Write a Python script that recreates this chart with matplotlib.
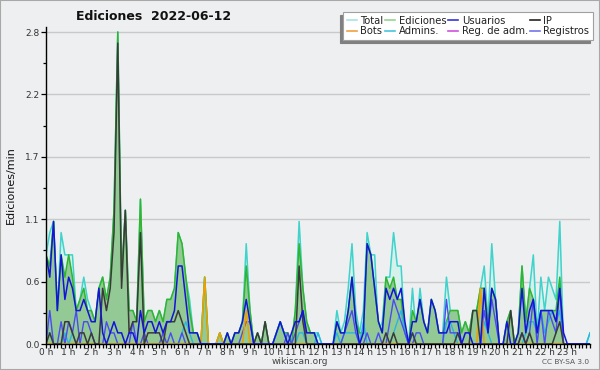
import numpy as np
import matplotlib
matplotlib.use('Agg')
import matplotlib.pyplot as plt
from matplotlib.lines import Line2D
from matplotlib.patches import Rectangle

# 10-minute bins (edits per minute), 0h .. 24h
total = [0.8, 1.0, 1.1, 0.3, 1.0, 0.8,
         0.8, 0.8, 0.3, 0.4, 0.6, 0.4,
         0.3, 0.2, 0.5, 0.6, 0.4, 0.6,
         1.2, 2.8, 0.6, 1.2, 0.3, 0.3,
         0.2, 1.3, 0.2, 0.3, 0.3, 0.2,
         0.3, 0.2, 0.4, 0.4, 0.5, 1.0,
         0.9, 0.6, 0.4, 0.1, 0.1, 0.0,
         0.6, 0.0, 0.0, 0.0, 0.1, 0.0,
         0.1, 0.0, 0.1, 0.1, 0.2, 0.9,
         0.3, 0.0, 0.1, 0.0, 0.2, 0.0,
         0.0, 0.1, 0.2, 0.1, 0.1, 0.0,
         0.3, 1.1, 0.5, 0.2, 0.1, 0.1,
         0.1, 0.0, 0.0, 0.0, 0.0, 0.3,
         0.1, 0.2, 0.5, 0.9, 0.3, 0.1,
         0.3, 1.0, 0.8, 0.8, 0.1, 0.2,
         0.6, 0.6, 1.0, 0.7, 0.7, 0.1,
         0.0, 0.5, 0.1, 0.5, 0.2, 0.1,
         0.4, 0.3, 0.1, 0.1, 0.6, 0.3,
         0.3, 0.3, 0.1, 0.2, 0.1, 0.3,
         0.3, 0.5, 0.7, 0.2, 0.9, 0.4,
         0.0, 0.0, 0.2, 0.3, 0.0, 0.1,
         0.7, 0.2, 0.5, 0.8, 0.1, 0.6,
         0.3, 0.6, 0.5, 0.4, 1.1, 0.0,
         0.0, 0.0, 0.0, 0.0, 0.0, 0.0,
         0.1]

ediciones = [0.8, 0.7, 1.1, 0.3, 0.8, 0.6,
             0.8, 0.6, 0.3, 0.4, 0.5, 0.3,
             0.3, 0.2, 0.5, 0.6, 0.4, 0.6,
             1.2, 2.8, 0.6, 1.2, 0.3, 0.3,
             0.2, 1.3, 0.2, 0.3, 0.3, 0.2,
             0.3, 0.2, 0.4, 0.4, 0.5, 1.0,
             0.9, 0.6, 0.3, 0.1, 0.1, 0.0,
             0.6, 0.0, 0.0, 0.0, 0.1, 0.0,
             0.1, 0.0, 0.1, 0.1, 0.2, 0.7,
             0.3, 0.0, 0.1, 0.0, 0.2, 0.0,
             0.0, 0.1, 0.2, 0.1, 0.1, 0.0,
             0.3, 0.9, 0.5, 0.2, 0.1, 0.1,
             0.0, 0.0, 0.0, 0.0, 0.0, 0.2,
             0.1, 0.1, 0.3, 0.6, 0.2, 0.1,
             0.1, 0.9, 0.8, 0.5, 0.2, 0.1,
             0.6, 0.5, 0.6, 0.4, 0.4, 0.1,
             0.0, 0.3, 0.2, 0.4, 0.2, 0.1,
             0.4, 0.3, 0.1, 0.1, 0.2, 0.3,
             0.3, 0.3, 0.1, 0.2, 0.1, 0.3,
             0.3, 0.5, 0.5, 0.2, 0.5, 0.4,
             0.0, 0.0, 0.2, 0.3, 0.0, 0.1,
             0.7, 0.2, 0.5, 0.4, 0.1, 0.3,
             0.3, 0.3, 0.3, 0.3, 0.6, 0.0,
             0.0, 0.0, 0.0, 0.0, 0.0, 0.0,
             0.0]

usuarios = [0.8, 0.6, 1.1, 0.3, 0.8, 0.4,
            0.6, 0.5, 0.3, 0.3, 0.4, 0.3,
            0.2, 0.2, 0.5, 0.1, 0.0, 0.1,
            0.2, 0.1, 0.1, 0.0, 0.1, 0.1,
            0.0, 0.3, 0.1, 0.2, 0.2, 0.1,
            0.2, 0.1, 0.2, 0.2, 0.3, 0.7,
            0.7, 0.4, 0.1, 0.1, 0.1, 0.0,
            0.0, 0.0, 0.0, 0.0, 0.0, 0.0,
            0.1, 0.0, 0.1, 0.1, 0.2, 0.4,
            0.2, 0.0, 0.0, 0.0, 0.0, 0.0,
            0.0, 0.1, 0.2, 0.1, 0.0, 0.1,
            0.2, 0.2, 0.3, 0.1, 0.1, 0.1,
            0.0, 0.0, 0.0, 0.0, 0.0, 0.2,
            0.1, 0.1, 0.3, 0.6, 0.2, 0.0,
            0.1, 0.9, 0.8, 0.5, 0.2, 0.1,
            0.5, 0.4, 0.5, 0.4, 0.5, 0.2,
            0.0, 0.2, 0.2, 0.4, 0.2, 0.1,
            0.4, 0.3, 0.1, 0.1, 0.1, 0.2,
            0.2, 0.2, 0.0, 0.1, 0.1, 0.0,
            0.0, 0.0, 0.5, 0.1, 0.5, 0.4,
            0.0, 0.0, 0.2, 0.0, 0.0, 0.1,
            0.5, 0.1, 0.3, 0.4, 0.1, 0.3,
            0.3, 0.3, 0.3, 0.2, 0.5, 0.1,
            0.0, 0.0, 0.0, 0.0, 0.0, 0.0,
            0.0]

ip = [0.0, 0.1, 0.0, 0.0, 0.0, 0.2,
      0.2, 0.1, 0.0, 0.1, 0.1, 0.0,
      0.1, 0.0, 0.0, 0.5, 0.3, 0.5,
      1.0, 2.7, 0.5, 1.2, 0.1, 0.2,
      0.2, 1.0, 0.0, 0.1, 0.1, 0.1,
      0.1, 0.0, 0.2, 0.2, 0.2, 0.3,
      0.2, 0.1, 0.0, 0.0, 0.0, 0.0,
      0.0, 0.0, 0.0, 0.0, 0.0, 0.0,
      0.0, 0.0, 0.0, 0.0, 0.0, 0.0,
      0.0, 0.0, 0.1, 0.0, 0.2, 0.0,
      0.0, 0.0, 0.0, 0.0, 0.0, 0.0,
      0.0, 0.7, 0.2, 0.0, 0.0, 0.0,
      0.0, 0.0, 0.0, 0.0, 0.0, 0.0,
      0.0, 0.0, 0.0, 0.0, 0.0, 0.0,
      0.0, 0.0, 0.0, 0.0, 0.0, 0.0,
      0.1, 0.0, 0.1, 0.0, 0.0, 0.0,
      0.0, 0.1, 0.0, 0.0, 0.0, 0.0,
      0.0, 0.0, 0.0, 0.0, 0.0, 0.0,
      0.0, 0.1, 0.0, 0.0, 0.0, 0.3,
      0.3, 0.0, 0.0, 0.0, 0.0, 0.0,
      0.0, 0.0, 0.0, 0.3, 0.0, 0.0,
      0.1, 0.0, 0.1, 0.0, 0.0, 0.0,
      0.0, 0.0, 0.0, 0.1, 0.2, 0.0,
      0.0, 0.0, 0.0, 0.0, 0.0, 0.0,
      0.0]

bots = [0.0] * 42 + [0.6, 0.0, 0.0, 0.0, 0.1, 0.0,
                     0.0, 0.0, 0.0, 0.0, 0.0, 0.3] + [0.0] * 61 + [0.5] + [0.0] * 29

admins = [0.1, 0.1, 0.0, 0.0, 0.0, 0.1,
          0.0, 0.1, 0.0, 0.0, 0.0, 0.0,
          0.0, 0.0, 0.0, 0.0, 0.0, 0.0,
          0.0, 0.0, 0.0, 0.0, 0.0, 0.0,
          0.0, 0.0, 0.0, 0.0, 0.0, 0.0,
          0.0, 0.0, 0.0, 0.0, 0.0, 0.0,
          0.1, 0.2, 0.1, 0.0, 0.0, 0.0,
          0.0, 0.0, 0.0, 0.0, 0.0, 0.0,
          0.0, 0.0, 0.0, 0.0, 0.0, 0.0,
          0.0, 0.0, 0.0, 0.0, 0.0, 0.0,
          0.0, 0.1, 0.2, 0.1, 0.0, 0.0,
          0.0, 0.1, 0.1, 0.0, 0.0, 0.0,
          0.1, 0.0, 0.0, 0.0, 0.0, 0.1,
          0.0, 0.1, 0.1, 0.1, 0.1, 0.0,
          0.2, 0.0, 0.0, 0.0, 0.0, 0.0,
          0.0, 0.0, 0.1, 0.2, 0.3, 0.1,
          0.0, 0.1, 0.0, 0.0, 0.0, 0.0,
          0.0, 0.0, 0.0, 0.0, 0.2, 0.2,
          0.1, 0.0, 0.0, 0.0, 0.0, 0.0,
          0.0, 0.0, 0.2, 0.1, 0.0, 0.0,
          0.0, 0.0, 0.0, 0.0, 0.0, 0.0,
          0.0, 0.1, 0.2, 0.2, 0.1, 0.3,
          0.1, 0.2, 0.3, 0.2, 0.3, 0.0,
          0.0, 0.0, 0.0, 0.0, 0.0, 0.0,
          0.1]

reg_adm = [0.0] * 145

registros = [0.0, 0.3, 0.0, 0.0, 0.2, 0.0,
             0.2, 0.1, 0.3, 0.0, 0.2, 0.2,
             0.1, 0.0, 0.0, 0.0, 0.2, 0.1,
             0.1, 0.0, 0.0, 0.0, 0.0, 0.2,
             0.0, 0.0, 0.1, 0.0, 0.0, 0.0,
             0.0, 0.1, 0.0, 0.1, 0.0, 0.0,
             0.1, 0.0, 0.0, 0.0, 0.0, 0.0,
             0.0, 0.0, 0.0, 0.0, 0.0, 0.0,
             0.0, 0.0, 0.0, 0.0, 0.1, 0.2,
             0.2, 0.0, 0.0, 0.0, 0.0, 0.0,
             0.0, 0.0, 0.0, 0.0, 0.1, 0.0,
             0.1, 0.2, 0.3, 0.0, 0.0, 0.0,
             0.0, 0.0, 0.0, 0.0, 0.0, 0.0,
             0.0, 0.1, 0.2, 0.3, 0.1, 0.0,
             0.0, 0.1, 0.0, 0.0, 0.1, 0.0,
             0.0, 0.2, 0.4, 0.3, 0.2, 0.1,
             0.0, 0.0, 0.1, 0.1, 0.0, 0.0,
             0.0, 0.0, 0.0, 0.0, 0.4, 0.1,
             0.1, 0.1, 0.0, 0.0, 0.0, 0.0,
             0.0, 0.0, 0.3, 0.1, 0.4, 0.2,
             0.0, 0.0, 0.0, 0.0, 0.0, 0.0,
             0.1, 0.0, 0.1, 0.4, 0.0, 0.3,
             0.0, 0.3, 0.2, 0.1, 0.5, 0.0,
             0.0, 0.0, 0.0, 0.0, 0.0, 0.0,
             0.0]

ytick_vals = [0.0, 0.56, 1.12, 1.68, 2.24, 2.8]
ytick_labels = ['0.0', '0.6', '1.1', '1.7', '2.2', '2.8']
hour_labels = [f'{h} h' for h in range(24)]
legend_labels = ['Total', 'Ediciones', 'Usuarios', 'IP',
                 'Bots', 'Admins.', 'Reg. de adm.', 'Registros']

plt.rcParams['font.family'] = ['DejaVu Sans']

W, H = 600, 370
bg = '#eeeff0'
fig = plt.figure(figsize=(W / 100, H / 100), dpi=100)
fig.patch.set_facecolor(bg)

px_left, px_right, px_bottom, px_top = 46, 590, 344, 27
px_max = 32  # pixel row of 2.8
ax = fig.add_axes([px_left / W, 1 - px_bottom / H,
                   (px_right - px_left) / W, (px_bottom - px_top) / H])
ax.set_facecolor(bg)

hours = np.arange(len(total)) / 6.0

ax.fill_between(hours, total, 0, color='#d4f1eb', lw=0, zorder=1)
ax.plot(hours, total, color='#3fd3cb', lw=1.1, zorder=2)
ax.fill_between(hours, ediciones, 0, color='#93c994', lw=0, zorder=3)
ax.plot(hours, ediciones, color='#2fb52f', lw=1.1, zorder=4)
ax.plot(hours, reg_adm, color='#d040d0', lw=1.0, zorder=4.5)
ax.plot(hours, admins, color='#2ab6e2', lw=1.0, zorder=5)
ax.plot(hours, registros, color='#4b4bf2', lw=1.0, zorder=5.2)
ax.plot(hours, bots, color='#f0a000', lw=1.1, zorder=5.4)
ax.plot(hours, ip, color='#3a3a3a', lw=1.1, zorder=6)
ax.plot(hours, usuarios, color='#1414d8', lw=1.1, zorder=7)

ymax = 2.8 * (px_bottom - px_top) / (px_bottom - px_max)
ax.set_ylim(0, ymax)
ax.set_xlim(0, 24)

ax.set_yticks(ytick_vals)
ax.set_yticklabels(ytick_labels)
ax.set_yticks([v + 0.28 for v in ytick_vals[:-1]], minor=True)
ax.set_xticks(range(24))
ax.set_xticklabels(hour_labels)
ax.set_xticks(np.arange(0, 24.01, 1 / 6), minor=True)

ax.tick_params(axis='both', which='both', direction='out', colors='black',
               labelcolor='#333333', labelsize=6.5, width=0.9)
ax.tick_params(axis='x', which='major', length=2.6, pad=0.3)
ax.tick_params(axis='x', which='minor', length=2.6)
ax.tick_params(axis='y', which='major', length=3.5, pad=1)
ax.tick_params(axis='y', which='minor', length=2.5)

ax.grid(axis='y', which='major', color='#c9c9c9', lw=1.0, zorder=0)
ax.set_axisbelow(True)
for s in ['top', 'right']:
    ax.spines[s].set_visible(False)
for s in ['left', 'bottom']:
    ax.spines[s].set_color('black')
    ax.spines[s].set_linewidth(1.0)
    ax.spines[s].set_zorder(10)

ax.set_ylabel('Ediciones/min', fontsize=8, color='#111111', labelpad=7)

fig.text(154 / W, 1 - 17 / H, 'Ediciones  2022-06-12', ha='center', va='center',
         fontsize=9, fontweight='bold', color='#111111')
fig.text(300 / W, 1 - 362 / H, 'wikiscan.org', ha='center', va='center',
         fontsize=6.5, color='#444444')
fig.text(589 / W, 1 - 362 / H, 'CC BY-SA 3.0', ha='right', va='center',
         fontsize=5.3, color='#555555')

leg_colors = ['#a6e6de', '#92d692', '#3434dc', '#222222',
              '#f0a040', '#46c6da', '#d050e0', '#7474ec']
handles = [Line2D([0], [0], color=c, lw=1.2) for c in leg_colors]
order = [0, 4, 1, 5, 2, 6, 3, 7]
h_ord = [handles[i] for i in order]
l_ord = [legend_labels[i] for i in order]
leg_kw = dict(loc='upper right', bbox_to_anchor=(593 / W, 1 - 12 / H), ncol=4,
              fontsize=7.2, frameon=True, fancybox=False, edgecolor='#a0a0a0',
              facecolor='white', framealpha=1, borderaxespad=0,
              handlelength=1.0, handletextpad=0.35, columnspacing=0.2,
              labelspacing=0.05, borderpad=0.35)
try:
    leg = fig.legend(h_ord, l_ord, shadow={'ox': -2.2, 'oy': -2.2,
                                           'color': '#808080', 'alpha': 1}, **leg_kw)
except Exception:
    leg = fig.legend(h_ord, l_ord, shadow=True, **leg_kw)
leg.get_frame().set_linewidth(0.8)
for t in leg.get_texts():
    t.set_color('#222222')

fig.add_artist(Rectangle((0, 0), 1, 1, transform=fig.transFigure, fill=False,
                         edgecolor='#a8a8a8', lw=1.5))

fig.savefig('out.png', dpi=100, facecolor=bg)
